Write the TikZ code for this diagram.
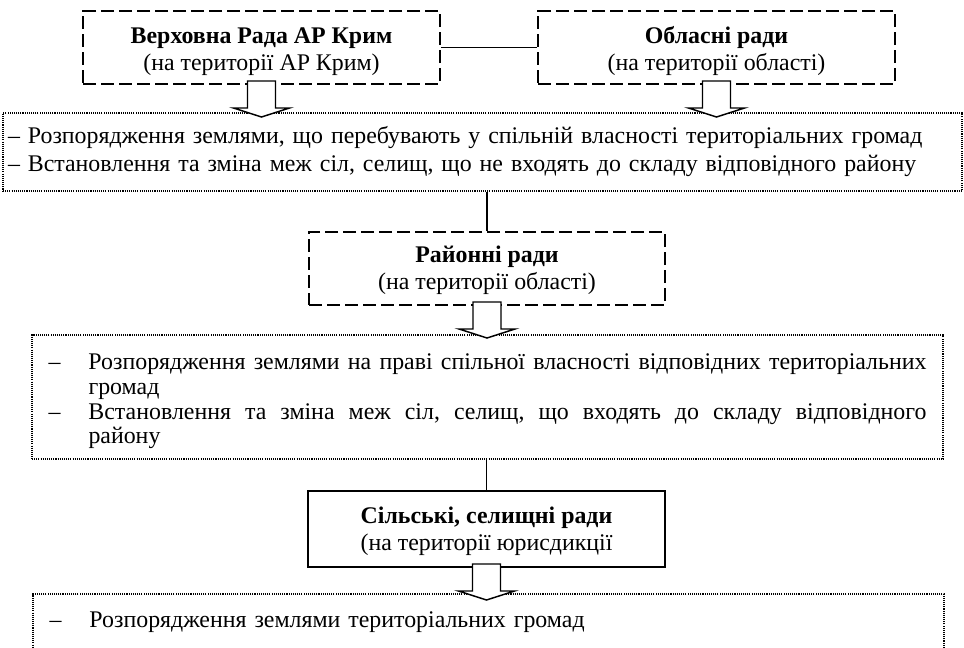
\documentclass[tikz,border=0pt]{standalone}
\usepackage{fontspec}
\setmainfont{Liberation Serif}

\tikzset{every picture/.style={line width=0.75pt}}
\tikzset{
  dashbox/.style={draw, line width=1.5pt, dash pattern=on 10pt off 3.5pt, inner sep=0pt, align=center},
  solidbox/.style={draw, line width=1.5pt, inner sep=0pt, align=center},
  dotbox/.style={draw, line width=0.8pt, dash pattern=on 0.8pt off 0.8pt, align=left},
  blockarrow/.style={draw, line width=1.1pt, fill=white},
  link/.style={draw, line width=1.1pt}
}
\newcommand{\blockdown}[1]{\draw[blockarrow] (#1) ++(-14,-4) -- ++(28,0) -- ++(0,27) -- ++(14,0) -- ++(-28,9) -- ++(-28,-9) -- ++(14,0) -- cycle;}

\begin{document}
\begin{tikzpicture}[x=0.75pt,y=0.75pt,yscale=-1,xscale=1,font=\fontsize{17.9}{20.3}\selectfont]
\useasboundingbox (0,0) rectangle (964,647);

%Shape: Rectangle [verkh]
\node[dashbox, minimum width=357*0.75pt, minimum height=73*0.75pt] (verkh) at (261.5,47.5)
  {\rule{0pt}{18.5pt}\textbf{Верховна Рада АР Крим}\\(на території АР Крим)};
%Shape: Rectangle [oblast]
\node[dashbox, minimum width=357*0.75pt, minimum height=73*0.75pt] (oblast) at (716.5,47.5)
  {\rule{0pt}{18.5pt}\textbf{Обласні ради}\\(на території області)};

%Text Node [oblpow]
\node[dotbox, font=\fontsize{17.9}{21}\selectfont, minimum width=959*0.75pt, minimum height=78*0.75pt, inner xsep=3.75pt, text width=711.75pt] (oblpow) at (482.5,152)
  {– Розпорядження землями, що перебувають у спільній власності територіальних громад\\
   – Встановлення та зміна меж сіл, селищ, що не входять до складу відповідного району};

%Shape: Rectangle [rayon]
\node[dashbox, minimum width=356*0.75pt, minimum height=73*0.75pt] (rayon) at (487,268.5)
  {\rule{0pt}{15.6pt}\textbf{Районні ради}\\(на території області)};

%Text Node [raypow]
\node[dotbox, font=\fontsize{17.9}{18.4}\selectfont, minimum width=911*0.75pt, minimum height=124*0.75pt, inner xsep=12.375pt, text width=658.5pt] (raypow) at (487.5,397)
  {\rule{0pt}{18.5pt}\makebox[30pt][l]{–}\makebox[628.5pt]{Розпорядження\hfill землями\hfill на\hfill праві\hfill спільної\hfill власності\hfill відповідних\hfill територіальних}\\
   \hspace*{30pt}громад\\
   \makebox[30pt][l]{–}\makebox[628.5pt]{Встановлення\hfill та\hfill зміна\hfill меж\hfill сіл,\hfill селищ,\hfill що\hfill входять\hfill до\hfill складу\hfill відповідного}\\
   \hspace*{30pt}району};

%Shape: Rectangle [silrada]
\node[solidbox, minimum width=357*0.75pt, minimum height=76*0.75pt] (silrada) at (486.5,529)
  {\rule{0pt}{15.8pt}\textbf{Сільські, селищні ради}\\(на території юрисдикції};

%Text Node [silpow]
\node[dotbox, minimum width=911*0.75pt, minimum height=56*0.75pt, inner xsep=12.375pt, text width=658.5pt] (silpow) at (488.5,622)
  {\makebox[30pt][l]{–}Розпорядження землями територіальних громад};

%Straight Lines
\draw[link] (verkh.east) -- (oblast.west);
\draw[link] (oblpow.south -| rayon.north) -- (rayon.north);
\draw[link] (raypow.south -| silrada.north) -- (silrada.north);

%Block arrows
\blockdown{verkh.south}
\blockdown{oblast.south}
\blockdown{rayon.south}
\blockdown{silrada.south}

\end{tikzpicture}
\end{document}
